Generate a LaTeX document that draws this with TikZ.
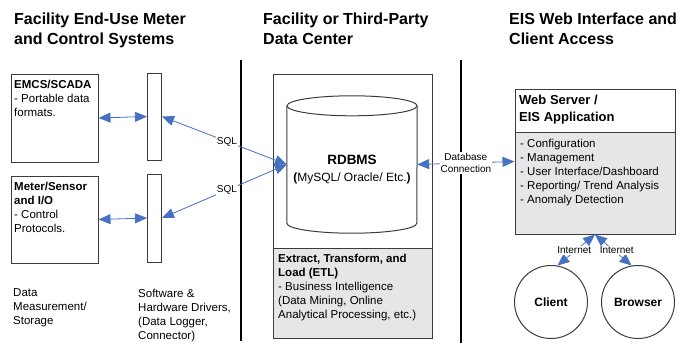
\documentclass[tikz,border=0pt]{standalone}
\usepackage{fontspec}
\setmainfont{Liberation Sans}
\usepackage{tikz}
\usetikzlibrary{arrows.meta}
\definecolor{linkblue}{RGB}{71,114,196}
\definecolor{panelgrey}{RGB}{230,230,230}
\definecolor{edgegrey}{RGB}{60,60,60}

\begin{document}
\begin{tikzpicture}[x=1pt, y=-1pt,
  >={Triangle[length=12pt,width=10pt]},
  link/.style={<->, draw=linkblue, line width=0.8pt},
  frame/.style={draw=edgegrey, line width=1pt, inner sep=0pt},
  txt/.style={anchor=north west, inner sep=0pt, align=left, font=\fontsize{11.5}{14}\selectfont},
  head/.style={anchor=north west, inner sep=0pt, align=left, font=\fontsize{16}{20}\selectfont\bfseries},
  tag/.style={fill=white, inner sep=1pt, align=center, font=\fontsize{10}{12}\selectfont}]

  \useasboundingbox (0,0) rectangle (687,345);

  \newcommand\barW{14};
  \newcommand\boxW{87};

  %% column titles
  \node[head] (t1) at (14,12.4) {Facility End-Use Meter\\and Control Systems};
  \node[head] (t2) at (263,12.4) {Facility or Third-Party\\Data Center};
  \node[head] (t3) at (509,12.4) {EIS Web Interface and\\Client Access};

  %% dividers
  \draw[line width=2pt] (241,60) -- (241,341);
  \draw[line width=2pt] (461,60) -- (461,343);

  %% meters and drivers
  \node[frame, minimum width=\boxW, minimum height=88] (emcs) at (54.5,118) {};
  \node[txt] at (14,79.7) {\textbf{EMCS/SCADA}\\- Portable data\\formats.};
  \node[frame, minimum width=\boxW, minimum height=87] (meter) at (54.5,219.5) {};
  \node[txt] at (14,181.7) {\textbf{Meter/Sensor}\\\textbf{and I/O}\\- Control\\Protocols.};

  \node[frame, minimum width=\barW, minimum height=87] (drv1) at (154.5,116.5) {};
  \node[frame, minimum width=\barW, minimum height=88] (drv2) at (154.5,218) {};

  \node[txt] (meas) at (13,288.7) {Data\\Measurement/\\Storage};
  \node[txt] (soft) at (138,288.7) {Software \&\\Hardware Drivers,\\(Data Logger,\\Connector)};

  %% data center
  \node[frame, minimum width=159, minimum height=264] (dc) at (352.5,206) {};
  \node[frame, fill=panelgrey, minimum width=159, minimum height=90] (etl) at (352.5,293) {};
  \node[txt] at (278,253.7) {\textbf{Extract, Transform, and}\\\textbf{Load (ETL)}\\- Business Intelligence\\(Data Mining, Online\\Analytical Processing, etc.)};

  \node[inner sep=0pt, minimum width=130, minimum height=117] (db) at (352,164.5) {};
  \draw[frame] (db.north west) -- (db.south west)
    arc[start angle=180, end angle=0, x radius=65, y radius=10] -- (db.north east);
  \draw[frame] (db.north) ellipse[x radius=65, y radius=10];
  \node[align=center, font=\fontsize{12}{17}\selectfont] at (352,169.5)
    {{\fontsize{13.5}{17}\selectfont\bfseries RDBMS}\\\textbf{(}MySQL/ Oracle/ Etc.\textbf{)}};

  %% web server and clients
  \node[frame, fill=panelgrey, minimum width=160, minimum height=145] (web) at (595,161.5) {};
  \node[frame, fill=white, minimum width=160, minimum height=43, anchor=north] (webhd) at (web.north) {};
  \node[anchor=north west, inner sep=0pt, align=left, font=\fontsize{13}{17}\selectfont\bfseries]
    at (519,94.6) {Web Server /\\EIS Application};
  \node[txt] at (520,138.7) {- Configuration\\- Management\\- User Interface/Dashboard\\- Reporting/ Trend Analysis\\- Anomaly Detection};

  \node[frame, circle, minimum size=73, font=\fontsize{12}{14}\selectfont\bfseries] (client) at (551,302) {Client};
  \node[frame, circle, minimum size=73, font=\fontsize{12}{14}\selectfont\bfseries] (browser) at (638,302) {Browser};

  %% connections
  \draw[link] (emcs.east) -- (drv1.west);
  \draw[link] (meter.east) -- (drv2.west);
  \draw[link] (drv1.east) -- node[tag, pos=0.52]{SQL} (db.west);
  \draw[link] (db.west) -- node[tag, pos=0.48]{SQL} (drv2.east);
  \draw[link] (db.east) -- node[tag]{Database\\Connection} (web.west);
  \draw[link] (web.south) -- node[tag, xshift=-2pt]{Internet} (client.80);
  \draw[link] (web.south) -- node[tag, xshift=3.5pt]{Internet} (browser.100);
\end{tikzpicture}
\end{document}
